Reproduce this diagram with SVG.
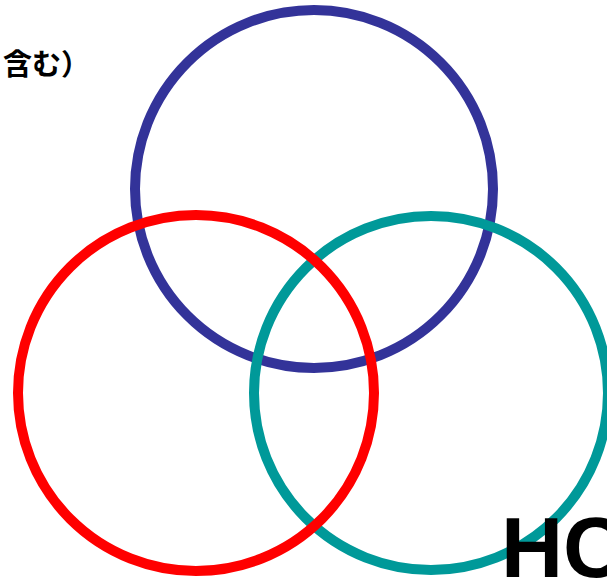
<svg xmlns="http://www.w3.org/2000/svg" width="607" height="579" viewBox="0 0 607 579">
<style>
.ring{fill:none;stroke-width:10}
.lbl{font-family:"Liberation Sans","Noto Sans CJK JP",sans-serif;font-weight:bold;fill:#000}
</style>
<rect width="607" height="579" fill="#fff"/>
<g id="blue"><circle class="ring" cx="314" cy="189" r="179" stroke="#333399"/></g>
<g id="teal"><circle class="ring" cx="431" cy="393" r="177" stroke="#009999"/></g>
<g id="red"><circle class="ring" cx="196" cy="393" r="178" stroke="#FF0000"/></g>
<g id="connectors"/>
<text class="lbl" x="3" y="75" font-size="29" font-family="'Noto Sans CJK JP',sans-serif">含む）</text>
<text class="lbl" x="501" y="577" font-size="86">HC</text>
</svg>
